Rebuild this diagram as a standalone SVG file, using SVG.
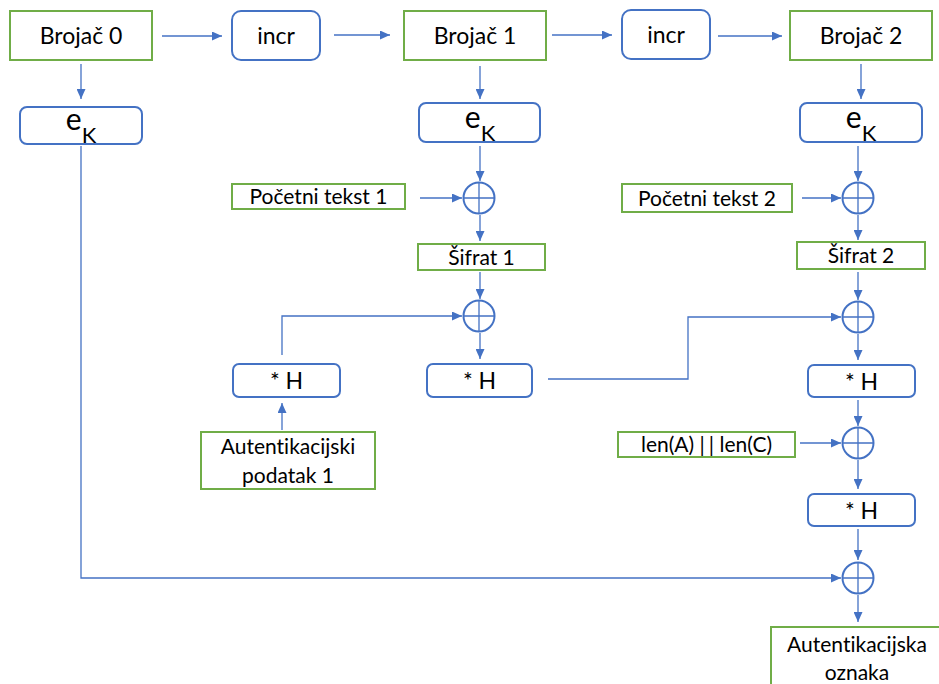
<svg xmlns="http://www.w3.org/2000/svg" width="939" height="684" viewBox="0 0 939 684">
<style>
.g{fill:#fff;stroke:#70AD47;stroke-width:2}
.b{fill:#fff;stroke:#4472C4;stroke-width:2}
.t{font-family:Lato,"Open Sans",sans-serif;fill:#000;text-anchor:middle;font-variant-ligatures:none}
.c{fill:none;stroke:#4472C4;stroke-width:1.3}
.x{fill:#fff;stroke:#4472C4;stroke-width:2}
</style>
<defs>
<marker id="a" markerUnits="userSpaceOnUse" markerWidth="10" markerHeight="9" refX="10" refY="4.5" orient="auto">
<path d="M0,0 L10,4.5 L0,9 z" fill="#4472C4"/>
</marker>
</defs>
<rect width="939" height="684" fill="#fff"/>
<g id="connectors">
<path class="c" marker-end="url(#a)" d="M162,36 H222"/>
<path class="c" marker-end="url(#a)" d="M334,35 H390"/>
<path class="c" marker-end="url(#a)" d="M552,35 H612"/>
<path class="c" marker-end="url(#a)" d="M718,36 H782"/>
<path class="c" marker-end="url(#a)" d="M81,64 V99"/>
<path class="c" marker-end="url(#a)" d="M480,66 V99"/>
<path class="c" marker-end="url(#a)" d="M861,64 V99"/>
<path class="c" marker-end="url(#a)" d="M480,146 V181"/>
<path class="c" marker-end="url(#a)" d="M858,146 V181"/>
<path class="c" marker-end="url(#a)" d="M420,198 H462"/>
<path class="c" marker-end="url(#a)" d="M802,198 H841"/>
<path class="c" marker-end="url(#a)" d="M480,215 V241"/>
<path class="c" marker-end="url(#a)" d="M858,215 V240"/>
<path class="c" marker-end="url(#a)" d="M480,272 V299"/>
<path class="c" marker-end="url(#a)" d="M858,272 V300"/>
<path class="c" marker-end="url(#a)" d="M282,355 V316 H462"/>
<path class="c" marker-end="url(#a)" d="M480,333 V359"/>
<path class="c" marker-end="url(#a)" d="M548,379 H688 V317 H841"/>
<path class="c" marker-end="url(#a)" d="M858,334 V360"/>
<path class="c" marker-end="url(#a)" d="M282,430 V403"/>
<path class="c" marker-end="url(#a)" d="M858,400 V426"/>
<path class="c" marker-end="url(#a)" d="M800,443 H841"/>
<path class="c" marker-end="url(#a)" d="M858,460 V489"/>
<path class="c" marker-end="url(#a)" d="M858,529 V560"/>
<path class="c" marker-end="url(#a)" d="M81,146 V578 H841"/>
<path class="c" marker-end="url(#a)" d="M858,595 V622"/>
</g>
<g id="brojac0"><rect class="g" x="10" y="11" width="142" height="49"/><text class="t" x="81" y="44" font-size="23">Brojač 0</text></g>
<g id="incr1"><rect class="b" x="232" y="11" width="88" height="49" rx="9"/><text class="t" x="276" y="44" font-size="23">incr</text></g>
<g id="brojac1"><rect class="g" x="404" y="11" width="142" height="49"/><text class="t" x="475" y="44" font-size="23">Brojač 1</text></g>
<g id="incr2"><rect class="b" x="622" y="10" width="88" height="49" rx="9"/><text class="t" x="666" y="43" font-size="23">incr</text></g>
<g id="brojac2"><rect class="g" x="790" y="11" width="142" height="49"/><text class="t" x="861" y="44" font-size="23">Brojač 2</text></g>
<g id="ek0"><rect class="b" x="20" y="107" width="122" height="37" rx="7"/><text class="t" x="81" y="130" font-size="30">e<tspan font-size="22" dy="13">K</tspan></text></g>
<g id="ek1"><rect class="b" x="419" y="103" width="121" height="39" rx="7"/><text class="t" x="480" y="128" font-size="30">e<tspan font-size="22" dy="13">K</tspan></text></g>
<g id="ek2"><rect class="b" x="800" y="103" width="122" height="39" rx="7"/><text class="t" x="861" y="128" font-size="30">e<tspan font-size="22" dy="13">K</tspan></text></g>
<g id="pt1"><rect class="g" x="232" y="184" width="173" height="25"/><text class="t" x="318.5" y="204" font-size="21">Početni tekst 1</text></g>
<g id="pt2"><rect class="g" x="622" y="184" width="170" height="28"/><text class="t" x="707" y="206" font-size="21">Početni tekst 2</text></g>
<g id="xor1"><circle class="x" cx="479" cy="198" r="15.5"/><path class="c" stroke-width="2" d="M463.5,198 H494.5 M479,182.5 V213.5"/></g>
<g id="xor3"><circle class="x" cx="858" cy="198" r="15.5"/><path class="c" stroke-width="2" d="M842.5,198 H873.5 M858,182.5 V213.5"/></g>
<g id="sifrat1"><rect class="g" x="418" y="244" width="127" height="26"/><text class="t" x="481.5" y="265" font-size="21">Šifrat 1</text></g>
<g id="sifrat2"><rect class="g" x="797" y="242" width="128" height="27"/><text class="t" x="861" y="263" font-size="21">Šifrat 2</text></g>
<g id="xor2"><circle class="x" cx="479" cy="316" r="15.5"/><path class="c" stroke-width="2" d="M463.5,316 H494.5 M479,300.5 V331.5"/></g>
<g id="xor4"><circle class="x" cx="858" cy="317" r="15.5"/><path class="c" stroke-width="2" d="M842.5,317 H873.5 M858,301.5 V332.5"/></g>
<g id="h1"><rect class="b" x="233" y="364" width="107" height="33" rx="6"/><text class="t" x="286.5" y="389" font-size="23">* H</text></g>
<g id="h2"><rect class="b" x="427" y="364" width="105" height="33" rx="6"/><text class="t" x="479.5" y="389" font-size="23">* H</text></g>
<g id="h3"><rect class="b" x="808" y="365" width="107" height="32" rx="6"/><text class="t" x="861.5" y="390" font-size="23">* H</text></g>
<g id="ad1"><rect class="g" x="201" y="432" width="174" height="57"/><text class="t" font-size="21"><tspan x="288" y="454">Autentikacijski</tspan><tspan x="288" y="483">podatak 1</tspan></text></g>
<g id="len"><rect class="g" x="618" y="432" width="177" height="25"/><text class="t" x="706.5" y="452" font-size="21">len(A) <tspan letter-spacing="4">|</tspan>| len(C)</text></g>
<g id="xor5"><circle class="x" cx="858" cy="443" r="15.5"/><path class="c" stroke-width="2" d="M842.5,443 H873.5 M858,427.5 V458.5"/></g>
<g id="h4"><rect class="b" x="808" y="494" width="107" height="32" rx="6"/><text class="t" x="861.5" y="519" font-size="23">* H</text></g>
<g id="xor6"><circle class="x" cx="858" cy="578" r="15.5"/><path class="c" stroke-width="2" d="M842.5,578 H873.5 M858,562.5 V593.5"/></g>
<g id="tag"><rect class="g" x="771" y="627" width="175" height="70"/><text class="t" font-size="21"><tspan x="857" y="652">Autentikacijska</tspan><tspan x="857" y="680">oznaka</tspan></text></g>
</svg>
